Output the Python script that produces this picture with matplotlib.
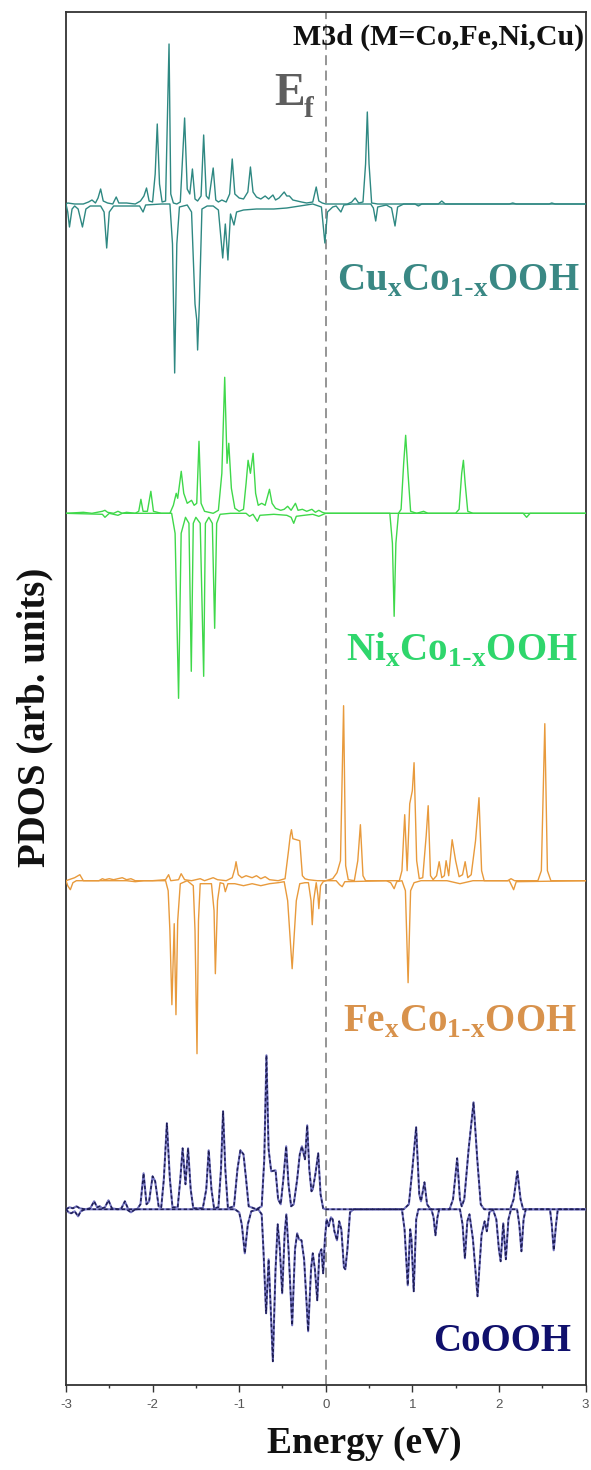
import numpy as np
import matplotlib
matplotlib.use("Agg")
import matplotlib.pyplot as plt

# ---------------------------------------------------------------------------
# Spin-resolved M3d PDOS (arb. units), polyline vertices as (energy eV, value)
# positive = spin up, negative = spin down
# ---------------------------------------------------------------------------
cu_up = [(-3.0, 0), (-2.98, 1), (-2.9, 0), (-2.8, 0), (-2.74, 2), (-2.70, 4), (-2.66, 1),
         (-2.63, 6), (-2.60, 15), (-2.57, 3), (-2.52, 1), (-2.46, 0), (-2.42, 7), (-2.39, 1),
         (-2.3, 1), (-2.2, 0), (-2.14, 3), (-2.10, 8), (-2.07, 16), (-2.04, 3), (-2.00, 2),
         (-1.97, 30), (-1.946, 80), (-1.92, 20), (-1.89, 2), (-1.85, 3), (-1.81, 160),
         (-1.79, 10), (-1.76, 1), (-1.72, 0), (-1.68, 2), (-1.63, 86), (-1.60, 15), (-1.57, 10),
         (-1.54, 35), (-1.51, 5), (-1.48, 3), (-1.44, 8), (-1.41, 69), (-1.38, 8), (-1.35, 5),
         (-1.30, 36), (-1.27, 4), (-1.24, 2), (-1.20, 4), (-1.15, 2), (-1.11, 10), (-1.08, 45),
         (-1.05, 10), (-1.0, 6), (-0.95, 5), (-0.90, 12), (-0.87, 37), (-0.84, 12), (-0.80, 7),
         (-0.75, 5), (-0.70, 8), (-0.66, 5), (-0.61, 9), (-0.58, 4), (-0.54, 6), (-0.50, 10),
         (-0.48, 12), (-0.45, 8), (-0.42, 8), (-0.38, 4), (-0.33, 3), (-0.28, 2), (-0.22, 1),
         (-0.15, 2), (-0.11, 17), (-0.08, 3), (-0.04, 1), (0.0, 0), (0.25, 0), (0.30, 2),
         (0.34, 6), (0.38, 1), (0.43, 2), (0.46, 40), (0.48, 92), (0.50, 40), (0.53, 1),
         (0.6, 0), (1.30, 0), (1.34, 3), (1.38, 0), (2.12, 0), (2.16, 1), (2.2, 0), (2.58, 0),
         (2.61, 1), (2.65, 0), (3.0, 0)]
cu_dn = [(-3.0, 0), (-2.98, -8), (-2.96, -23), (-2.93, -5), (-2.90, -2), (-2.86, -5),
         (-2.81, -23), (-2.77, -5), (-2.72, -2), (-2.6, -2), (-2.56, -8), (-2.53, -44),
         (-2.50, -8), (-2.45, -2), (-2.3, -2), (-2.15, -2), (-2.11, -8), (-2.08, -1), (-1.9, 0),
         (-1.80, 0), (-1.77, -40), (-1.745, -169), (-1.72, -40), (-1.69, -3), (-1.60, -1),
         (-1.55, -8), (-1.51, -100), (-1.49, -116), (-1.48, -146), (-1.46, -100), (-1.43, -5),
         (-1.37, -2), (-1.30, -2), (-1.24, -6), (-1.19, -54), (-1.16, -20), (-1.13, -56),
         (-1.10, -10), (-1.06, -21), (-1.03, -8), (-0.95, -6), (-0.8, -5), (-0.6, -5),
         (-0.45, -4), (-0.3, -2), (-0.15, 0), (-0.05, -3), (-0.01, -39), (0.02, -8), (0.08, -3),
         (0.12, -2), (0.175, -8), (0.21, -1), (0.3, 0), (0.52, 0), (0.55, -4), (0.577, -17),
         (0.60, -3), (0.70, -1), (0.76, -4), (0.80, -22), (0.83, -3), (0.9, 0), (1.03, 0),
         (1.07, -2), (1.11, 0), (3.0, 0)]

ni_up = [(-3.0, 0), (-2.8, 1), (-2.7, 0), (-2.58, 2), (-2.55, 3), (-2.52, 1), (-2.45, 0),
         (-2.40, 2), (-2.35, 0), (-2.3, 1), (-2.2, 0), (-2.16, 2), (-2.135, 14), (-2.11, 2),
         (-2.06, 2), (-2.02, 22), (-1.99, 2), (-1.9, 0), (-1.8, 0), (-1.76, 8), (-1.727, 20),
         (-1.71, 15), (-1.669, 42), (-1.64, 20), (-1.60, 10), (-1.55, 13), (-1.52, 8),
         (-1.49, 10), (-1.464, 72), (-1.44, 10), (-1.40, 2), (-1.30, 0), (-1.24, 3),
         (-1.20, 40), (-1.167, 136), (-1.14, 50), (-1.12, 70), (-1.09, 25), (-1.05, 5),
         (-1.0, 2), (-0.95, 4), (-0.92, 30), (-0.897, 53), (-0.87, 40), (-0.839, 60),
         (-0.81, 20), (-0.78, 8), (-0.74, 10), (-0.70, 8), (-0.65, 24), (-0.62, 10), (-0.58, 5),
         (-0.52, 3), (-0.48, 4), (-0.44, 7), (-0.40, 3), (-0.35, 10), (-0.32, 3), (-0.27, 4),
         (-0.22, 2), (-0.16, 4), (-0.12, 1), (-0.08, 3), (-0.04, 1), (0.0, 0), (0.84, 0),
         (0.87, 4), (0.90, 50), (0.923, 78), (0.95, 40), (0.98, 2), (1.05, 0), (1.13, 2),
         (1.18, 0), (1.50, 0), (1.54, 4), (1.57, 40), (1.59, 53), (1.61, 30), (1.64, 2),
         (1.7, 0), (3.0, 0)]
ni_dn = [(-3.0, 0), (-2.58, -1), (-2.55, -4), (-2.50, 0), (-2.40, -2), (-2.35, 0), (-1.78, 0),
         (-1.74, -20), (-1.70, -185), (-1.67, -20), (-1.62, -4), (-1.58, -10), (-1.553, -158),
         (-1.53, -10), (-1.50, -4), (-1.45, -10), (-1.41, -163), (-1.39, -10), (-1.35, -4),
         (-1.31, -10), (-1.283, -115), (-1.26, -10), (-1.22, -1), (-1.1, 0), (-0.92, 0),
         (-0.88, -3), (-0.84, -1), (-0.79, -8), (-0.76, -2), (-0.6, -1), (-0.45, -2),
         (-0.40, -4), (-0.37, -10), (-0.34, -3), (-0.25, -2), (-0.15, -1), (-0.08, -3),
         (0.0, 0), (0.74, 0), (0.77, -30), (0.79, -103), (0.81, -30), (0.84, 0), (2.28, 0),
         (2.32, -4), (2.36, 0), (3.0, 0)]

fe_up = [(-3.0, 0), (-2.90, 3), (-2.84, 6), (-2.80, 0), (-2.62, 0), (-2.58, 2), (-2.55, 1),
         (-2.50, 2), (-2.45, 1), (-2.40, 2), (-2.35, 3), (-2.30, 1), (-2.25, 2), (-2.2, 0),
         (-2.0, 0), (-1.85, 1), (-1.815, 6), (-1.79, 0), (-1.70, 1), (-1.67, 7), (-1.63, 1),
         (-1.55, 0), (-1.45, 2), (-1.40, 0), (-1.30, 3), (-1.25, 1), (-1.15, 0), (-1.08, 3),
         (-1.05, 12), (-1.036, 19), (-1.01, 6), (-0.97, 3), (-0.92, 5), (-0.85, 3), (-0.8, 5),
         (-0.75, 2), (-0.70, 4), (-0.65, 1), (-0.55, 0), (-0.47, 2), (-0.43, 30), (-0.41, 45),
         (-0.396, 51), (-0.38, 42), (-0.30, 40), (-0.27, 5), (-0.24, 2), (-0.2, 1), (-0.1, 0),
         (0.0, 0), (0.08, 2), (0.13, 8), (0.17, 20), (0.206, 175), (0.23, 15), (0.26, 1),
         (0.33, 0), (0.37, 20), (0.40, 56), (0.43, 5), (0.46, 0), (0.85, 0), (0.88, 10),
         (0.912, 66), (0.94, 10), (0.97, 77), (1.0, 90), (1.02, 118), (1.05, 20), (1.08, 2),
         (1.12, 3), (1.16, 45), (1.183, 75), (1.21, 5), (1.24, 1), (1.28, 5), (1.31, 19),
         (1.34, 3), (1.37, 5), (1.39, 20), (1.42, 5), (1.46, 41), (1.50, 20), (1.54, 4),
         (1.58, 6), (1.61, 19), (1.64, 3), (1.68, 6), (1.73, 40), (1.77, 83), (1.80, 10),
         (1.83, 0), (2.1, 0), (2.14, 2), (2.18, 0), (2.45, 0), (2.49, 10), (2.53, 157),
         (2.56, 10), (2.60, 0), (3.0, 0)]
fe_dn = [(-3.0, 0), (-2.98, -5), (-2.95, -9), (-2.92, -2), (-2.88, 0), (-2.3, 0), (-2.2, -1),
         (-2.1, 0), (-1.85, 0), (-1.82, -10), (-1.80, -50), (-1.777, -124), (-1.75, -43),
         (-1.73, -134), (-1.71, -40), (-1.68, -3), (-1.60, 0), (-1.53, -5), (-1.51, -50),
         (-1.487, -173), (-1.47, -40), (-1.45, -3), (-1.32, -3), (-1.29, -30), (-1.275, -93),
         (-1.25, -20), (-1.22, -2), (-1.18, -3), (-1.16, -11), (-1.13, -3), (-1.05, -3),
         (-0.95, -5), (-0.85, -3), (-0.75, -5), (-0.65, -3), (-0.55, -2), (-0.48, -1),
         (-0.44, -20), (-0.388, -88), (-0.34, -20), (-0.30, -3), (-0.24, -2), (-0.20, -2),
         (-0.17, -20), (-0.156, -44), (-0.14, -20), (-0.11, -2), (-0.09, -15), (-0.08, -28),
         (-0.06, -5), (-0.03, -1), (0.0, 0), (0.12, 0), (0.16, -4), (0.19, -6), (0.22, -1),
         (0.70, 0), (0.75, -2), (0.79, -8), (0.82, -1), (0.88, 0), (0.92, -10), (0.951, -102),
         (0.98, -10), (1.02, -2), (1.1, 0), (1.40, 0), (1.55, -3), (1.70, 0), (2.12, 0),
         (2.17, -9), (2.20, -1), (3.0, 0)]

co_up = [(-3.0, 0), (-2.96, 2), (-2.92, 1), (-2.88, 3), (-2.84, 1), (-2.78, 0), (-2.72, 1),
         (-2.675, 8), (-2.64, 2), (-2.61, 3), (-2.58, 1), (-2.55, 2), (-2.51, 9), (-2.47, 1),
         (-2.40, 0), (-2.36, 1), (-2.32, 8), (-2.28, 0), (-2.18, 0), (-2.14, 5), (-2.104, 36),
         (-2.07, 5), (-2.04, 8), (-2.0, 33), (-1.97, 28), (-1.93, 3), (-1.90, 2), (-1.87, 30),
         (-1.835, 86), (-1.80, 30), (-1.77, 2), (-1.71, 2), (-1.68, 30), (-1.653, 61),
         (-1.62, 25), (-1.59, 61), (-1.56, 20), (-1.53, 1), (-1.42, 1), (-1.38, 20),
         (-1.352, 59), (-1.32, 20), (-1.29, 1), (-1.24, 2), (-1.21, 40), (-1.186, 98),
         (-1.16, 40), (-1.13, 1), (-1.06, 3), (-1.02, 40), (-0.986, 59), (-0.95, 55),
         (-0.92, 30), (-0.89, 3), (-0.80, 0), (-0.74, 3), (-0.71, 50), (-0.685, 154),
         (-0.66, 60), (-0.63, 38), (-0.58, 39), (-0.55, 10), (-0.52, 5), (-0.49, 30),
         (-0.457, 63), (-0.43, 25), (-0.40, 3), (-0.37, 5), (-0.33, 30), (-0.30, 55),
         (-0.275, 63), (-0.24, 50), (-0.214, 84), (-0.19, 40), (-0.165, 18), (-0.15, 20),
         (-0.12, 35), (-0.087, 56), (-0.06, 15), (-0.03, 1), (0.0, 0), (0.9, 0), (0.96, 5),
         (1.00, 40), (1.044, 82), (1.08, 15), (1.10, 8), (1.14, 27), (1.17, 5), (1.21, 0),
         (1.43, 0), (1.47, 10), (1.518, 51), (1.55, 10), (1.57, 3), (1.60, 10), (1.65, 60),
         (1.707, 107), (1.75, 50), (1.79, 5), (1.83, 0), (2.13, 0), (2.17, 10), (2.213, 38),
         (2.25, 10), (2.28, 0), (3.0, 0)]
co_dn = [(-3.0, 0), (-2.97, -3), (-2.94, -4), (-2.90, -2), (-2.86, -7), (-2.83, -2),
         (-2.78, 0), (-2.3, 0), (-2.25, -3), (-2.2, 0), (-1.05, 0), (-1.0, -3), (-0.97, -15),
         (-0.935, -44), (-0.90, -15), (-0.86, -2), (-0.78, 0), (-0.74, -5), (-0.72, -40),
         (-0.689, -104), (-0.66, -50), (-0.64, -90), (-0.611, -152), (-0.58, -60),
         (-0.555, -15), (-0.53, -40), (-0.503, -84), (-0.475, -25), (-0.455, -5), (-0.43, -40),
         (-0.388, -116), (-0.355, -40), (-0.33, -24), (-0.31, -30), (-0.28, -31), (-0.25, -50),
         (-0.203, -122), (-0.17, -60), (-0.15, -44), (-0.125, -60), (-0.098, -91),
         (-0.075, -45), (-0.05, -40), (-0.03, -64), (-0.01, -30), (0.01, -10), (0.033, -17),
         (0.06, -8), (0.08, -10), (0.10, -22), (0.13, -31), (0.155, -12), (0.18, -20),
         (0.21, -58), (0.226, -60), (0.25, -40), (0.28, -3), (0.32, 0), (0.88, 0), (0.91, -20),
         (0.947, -76), (0.975, -20), (0.99, -30), (1.016, -82), (1.045, -10), (1.07, 0),
         (1.22, 0), (1.245, -8), (1.267, -26), (1.29, -8), (1.31, 0), (1.55, 0), (1.58, -15),
         (1.607, -49), (1.635, -12), (1.66, -5), (1.70, -30), (1.753, -87), (1.80, -25),
         (1.835, -12), (1.86, -22), (1.89, -3), (1.93, 0), (1.97, -10), (2.00, -40),
         (2.02, -52), (2.05, -14), (2.08, -50), (2.11, -10), (2.14, 0), (2.21, 0), (2.235, -15),
         (2.26, -42), (2.285, -10), (2.31, 0), (2.59, 0), (2.61, -15), (2.633, -41),
         (2.66, -15), (2.68, 0), (3.0, 0)]

# panel order (top to bottom) and names
names = ["Cu$_\\mathregular{x}$Co$_\\mathregular{1\\text{-}x}$OOH",
         "Ni$_\\mathregular{x}$Co$_\\mathregular{1\\text{-}x}$OOH",
         "Fe$_\\mathregular{x}$Co$_\\mathregular{1\\text{-}x}$OOH",
         "CoOOH"]
curves = [(cu_up, cu_dn), (ni_up, ni_dn), (fe_up, fe_dn), (co_up, co_dn)]
xticks = [-3, -2, -1, 0, 1, 2, 3]

# styling
offsets = [1181, 871.7, 504.3, 175.7]
line_colors = ["#2e8882", "#3fd84a", "#e89a3c", "#33338f"]
label_colors = ["#3a8884", "#2fd66c", "#d8924c", "#10106c"]
label_pos = [(2.93, 1094), (2.91, 724), (2.90, 353), (2.835, 34)]

serif = ["Liberation Serif", "DejaVu Serif"]

fig = plt.figure(figsize=(5.91, 14.70), dpi=100)
ax = fig.add_axes([66 / 591, 85 / 1470, 519.5 / 591, 1373 / 1470])

for i, (up, dn) in enumerate(curves):
    for series in (up, dn):
        arr = np.array(series, dtype=float)
        if i == 3:
            ax.plot(arr[:, 0], arr[:, 1] + offsets[i], color="#7474c0", lw=1.5,
                    solid_joinstyle="round", zorder=3)
            ax.plot(arr[:, 0], arr[:, 1] + offsets[i], color="#1e1e55", lw=1.1,
                    dashes=(2.2, 1.6), zorder=4)
        else:
            ax.plot(arr[:, 0], arr[:, 1] + offsets[i], color=line_colors[i], lw=1.0,
                    zorder=3)
    ax.text(label_pos[i][0], label_pos[i][1], names[i], family=serif, weight="bold",
            fontsize=28, color=label_colors[i], ha="right", va="baseline", zorder=5)

# Fermi level
ax.axvline(0, color="#8c8c8c", lw=1.3, dashes=(5.5, 3.0), zorder=2)
ax.text(-0.60, 1280, "E", family=serif, weight="bold", fontsize=33, color="#5e5e5e",
        ha="left", va="baseline")
ax.text(-0.255, 1268, "f", family=serif, weight="bold", fontsize=21, color="#5e5e5e",
        ha="left", va="baseline")
ax.text(2.98, 1340, "M3d (M=Co,Fe,Ni,Cu)", family=serif, weight="bold", fontsize=21.5,
        color="#111111", ha="right", va="baseline")

ax.set_xlim(-3, 3)
ax.set_ylim(0, 1373)
ax.set_xticks(xticks)
ax.set_xticklabels([str(t) for t in xticks])
ax.set_xticks(np.arange(-2.5, 3.0, 1.0), minor=True)
ax.set_yticks([])
ax.tick_params(axis="x", which="major", direction="out", length=5, width=1.0,
               colors="#333333", labelcolor="#555555", labelsize=9.5, pad=5)
ax.tick_params(axis="x", which="minor", direction="out", length=2.5, width=1.0,
               colors="#333333")
for lab in ax.get_xticklabels():
    lab.set_family(["Liberation Sans", "DejaVu Sans"])
for sp in ax.spines.values():
    sp.set_color("#333333")
    sp.set_linewidth(1.3)

fig.text(364 / 591, 1 - 1453 / 1470, "Energy (eV)", family=serif, weight="bold",
         fontsize=27, ha="center", va="baseline", color="#111111")
fig.text(35 / 591, 1 - 717 / 1470, "PDOS (arb. units)", family=serif, weight="bold",
         fontsize=28, rotation=90, ha="center", va="center", color="#111111")

fig.savefig("out.png", dpi=100, facecolor="white")
